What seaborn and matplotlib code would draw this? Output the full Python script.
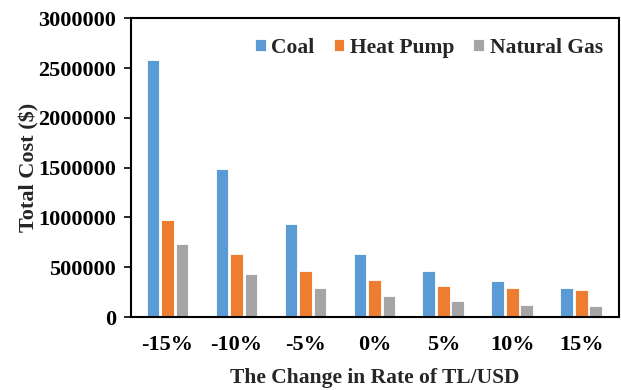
import matplotlib
matplotlib.use("Agg")
import matplotlib.pyplot as plt
import seaborn as sns
import pandas as pd

# Exchange-rate scenarios and total cost per heating option
rate_changes = ["-15%", "-10%", "-5%", "0%", "5%", "10%", "15%"]
coal = [2580000, 1490000, 936000, 634000, 463000, 362000, 289000]
heat_pump = [970000, 634000, 463000, 370000, 315000, 289000, 272000]
natural_gas = [735000, 433000, 289000, 209000, 161000, 124000, 108000]

series_names = ["Coal", "Heat Pump", "Natural Gas"]
colors = ["#5B9BD5", "#ED7D31", "#A5A5A5"]

df = pd.DataFrame({
    "Rate": rate_changes * 3,
    "Source": [n for n in series_names for _ in rate_changes],
    "Cost": coal + heat_pump + natural_gas,
})

sns.set_theme(style="white")
plt.rcParams["font.family"] = ["Liberation Serif", "DejaVu Serif"]
plt.rcParams["font.weight"] = "bold"

fig = plt.figure(figsize=(6.21, 3.90), dpi=100)
ax = fig.add_axes([0.211, 0.187, 0.786, 0.766])

sns.barplot(data=df, x="Rate", y="Cost", hue="Source", order=rate_changes,
            hue_order=series_names, palette=colors, width=0.63, gap=0.12,
            edgecolor="white", linewidth=0.6, saturation=1, ax=ax)

ax.set_ylim(0, 3000000)
ax.set_xlim(-0.53, 6.55)
ax.set_yticks(range(0, 3000001, 500000))
ax.set_yticklabels([str(v) for v in range(0, 3000001, 500000)],
                   fontsize=16, fontweight="bold")
ax.set_xticks(range(len(rate_changes)))
ax.set_xticklabels(rate_changes, fontsize=16, fontweight="bold")
ax.tick_params(axis="y", which="both", left=True, length=5, width=1.2,
               direction="out", pad=6, colors="black")
ax.tick_params(axis="x", bottom=False, pad=7, colors="black")

for s in ax.spines.values():
    s.set_visible(True)
    s.set_color("black")
    s.set_linewidth(1.5)

ax.set_xlabel("The Change in Rate of TL/USD", fontsize=15.5, fontweight="bold",
              labelpad=9)
ax.set_ylabel("Total Cost ($)", fontsize=16, fontweight="bold", labelpad=-1)

leg = ax.legend(loc="upper right", ncol=3, frameon=False,
                prop={"size": 15.5, "weight": "bold"},
                handlelength=0.5, handleheight=0.5, handletextpad=0.25,
                columnspacing=0.9, bbox_to_anchor=(1.006, 1.0))

fig.savefig("out.png", dpi=100)
